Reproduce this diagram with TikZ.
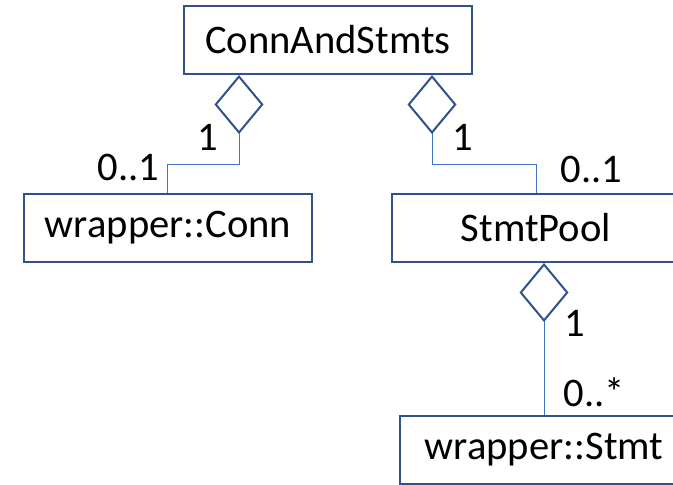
\documentclass[tikz,border=0pt]{standalone}
\usepackage{fontspec}
\setmainfont{Carlito}
\usetikzlibrary{
  arrows.meta,
  calc,
  positioning
}
\definecolor{boxblue}{HTML}{2F528F}
\definecolor{lineblue}{HTML}{4472C4}
\tikzset{
%
  % For the class boxes.
  box/.style={
    draw=boxblue,
    line width=1pt,
    minimum width=144pt,
    minimum height=34pt,
    inner sep=0pt},
%
  % For the relation 'A aggregates B'.
  aggregates/.style={
    draw=lineblue,
    line width=0.5pt,
    {Diamond[open,
             length=29.5pt,
             width=24.5pt,
             line width=1pt,
             color=boxblue]}-},
%
  % For the multiplicities.
  mult/.style={
    inner sep=2pt}
}

\begin{document}
\begin{tikzpicture}[font=\fontsize{20.3}{24}\selectfont]
  \useasboundingbox (-164pt,20pt) rectangle (172.5pt,-222pt);

  \node[box] (CAS) at (0,0) {ConnAndStmts};
  \node[box] (Conn) [below=59pt of CAS, xshift=-80pt] {wrapper::Conn};
  \node[box] (Pool) [below=59pt of CAS, xshift=104pt] {StmtPool};
  \node[box] (Stmt) [below=76pt of Pool, xshift=4pt] {wrapper::Stmt};

  \draw[aggregates] ($(CAS.south)+(-44.5pt,0)$) -- ++(0,-44.5pt)
    node[mult, pos=0.7, left=8pt] {1}
    -| (Conn.north)
    node[mult, above left, at end, xshift=-2pt, yshift=4pt] {0..1};
  \draw[aggregates] ($(CAS.south)+(52pt,0)$) -- ++(0,-44.5pt)
    node[mult, pos=0.7, right=8pt] {1}
    -| (Pool.north)
    node[mult, above right, at end, xshift=10pt, yshift=3pt] {0..1};
  \draw[aggregates] ($(Pool.south)+(4pt,0)$) -- (Stmt.north)
    node[mult, pos=0.395, right=8pt] {1}
    node[mult, above right, at end, xshift=7.5pt, yshift=2pt] {0..*};
\end{tikzpicture}
\end{document}
